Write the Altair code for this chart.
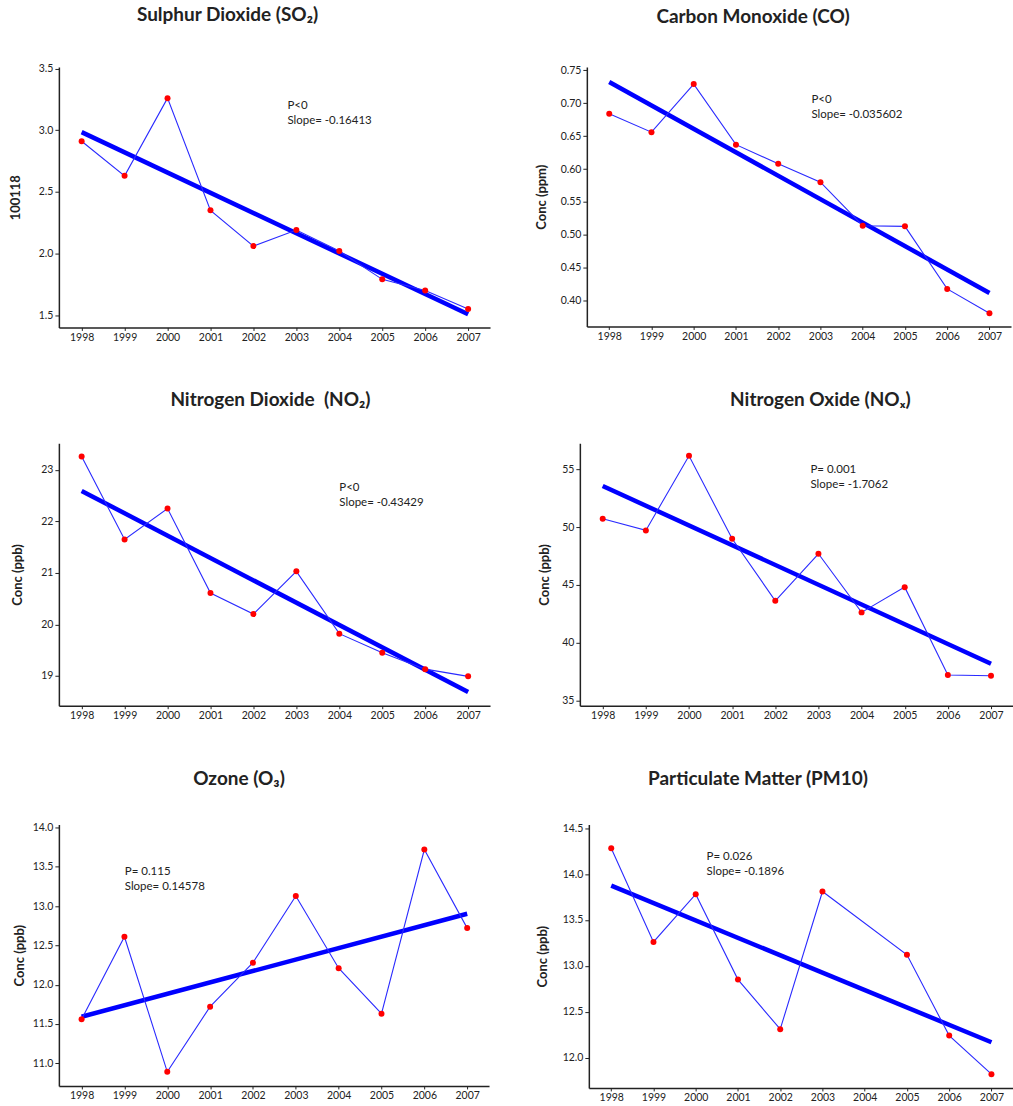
import altair as alt
import pandas as pd

# Annual mean concentrations, 1998-2007
years = [1998, 1999, 2000, 2001, 2002, 2003, 2004, 2005, 2006, 2007]

so2 = [2.91, 2.63, 3.26, 2.35, 2.06, 2.19, 2.02, 1.79, 1.70, 1.55]
co = [0.684, 0.656, 0.729, 0.637, 0.608, 0.580, 0.514, 0.513, 0.418, 0.381]
no2 = [23.26, 21.65, 22.25, 20.61, 20.20, 21.03, 19.82, 19.45, 19.13, 18.99]
nox = [50.71, 49.71, 56.15, 48.99, 43.63, 47.69, 42.63, 44.81, 37.22, 37.16]
o3 = [11.56, 12.61, 10.89, 11.72, 12.28, 13.13, 12.21, 11.63, 13.72, 12.72]
pm10 = [14.28, 13.26, 13.78, 12.85, 12.31, 13.81, None, 13.12, 12.24, 11.82]

series = [so2, co, no2, nox, o3, pm10]

titles = [
    "Sulphur Dioxide (SO₂)",
    "Carbon Monoxide (CO)",
    "Nitrogen Dioxide\u00a0 (NO₂)",
    "Nitrogen Oxide (NOₓ)",
    "Ozone (O₃)",
    "Particulate Matter (PM10)",
]
y_titles = ["100118", "Conc (ppm)", "Conc (ppb)", "Conc (ppb)", "Conc (ppb)", "Conc (ppb)"]
p_labels = ["P<0", "P<0", "P<0", "P= 0.001", "P= 0.115", "P= 0.026"]
slopes = [-0.16413, -0.035602, -0.43429, -1.7062, 0.14578, -0.1896]

y_ticks = [
    [1.5, 2.0, 2.5, 3.0, 3.5],
    [0.40, 0.45, 0.50, 0.55, 0.60, 0.65, 0.70, 0.75],
    [19, 20, 21, 22, 23],
    [35, 40, 45, 50, 55],
    [11.0, 11.5, 12.0, 12.5, 13.0, 13.5, 14.0],
    [12.0, 12.5, 13.0, 13.5, 14.0, 14.5],
]
y_formats = [".1f", ".2f", "d", "d", ".1f", ".1f"]
y_domains = [
    [1.40, 3.513],
    [0.361, 0.755],
    [18.42, 23.52],
    [34.57, 57.24],
    [10.71, 14.04],
    [11.67, 14.54],
]

# panel geometry: width, height, y-axis extent, title padding, title offset, title dx,
# annotation x/y (first line centre) inside the plot area
layout = [
    dict(w=432, h=261, ext=26, tpad=10, toff=39, tdx=-47, ax=229, ay=37),
    dict(w=425, h=260, ext=30, tpad=8, toff=38, tdx=-46, ax=225, ay=31),
    dict(w=432, h=263, ext=24, tpad=10, toff=33, tdx=-4, ax=281, ay=43),
    dict(w=434, h=263, ext=20, tpad=8, toff=33, tdx=24, ax=231, ay=25),
    dict(w=431, h=262, ext=26, tpad=6, toff=34, tdx=-35, ax=66, ay=46),
    dict(w=425, h=264, ext=30, tpad=9, toff=34, tdx=-43, ax=118, ay=31),
]

FONT = "Lato"
INK = "#222222"


def panel(i):
    g = layout[i]
    df = pd.DataFrame({"year": years, "value": series[i]}).dropna()
    xm = df["year"].mean()
    ym = df["value"].mean()
    ends = [years[0], years[-1]]
    trend = pd.DataFrame(
        {"year": ends, "value": [ym + slopes[i] * (e - xm) for e in ends]}
    )

    x = alt.X(
        "year:Q",
        scale=alt.Scale(domain=[1997.47, 2007.51], nice=False, zero=False),
        axis=alt.Axis(values=years, format="d", title=None, tickSize=3,
                      labelPadding=2, labelFlush=False),
    )
    y = alt.Y(
        "value:Q",
        scale=alt.Scale(domain=y_domains[i], nice=False, zero=False),
        axis=alt.Axis(values=y_ticks[i], format=y_formats[i], title=y_titles[i],
                      minExtent=g["ext"], maxExtent=g["ext"], titlePadding=g["tpad"],
                      tickSize=4, labelPadding=2),
    )

    fit = alt.Chart(trend).mark_line(color="#0000ff", strokeWidth=4.5).encode(x=x, y=y)
    obs = alt.Chart(df).mark_line(color="#2a2aff", strokeWidth=1.1).encode(x=x, y=y)
    pts = alt.Chart(df).mark_point(filled=True, color="#ff0000", size=36, opacity=1).encode(x=x, y=y)
    note = alt.Chart(pd.DataFrame({"k": [0]})).mark_text(
        align="left", baseline="top", font=FONT, fontSize=11.5, color=INK,
        lineHeight=15, text=[p_labels[i], f"Slope= {slopes[i]}"],
    ).encode(x=alt.value(g["ax"]), y=alt.value(g["ay"] - 4))

    return alt.layer(fit, obs, pts, note).properties(
        width=g["w"],
        height=g["h"],
        title=alt.TitleParams(text=titles[i], offset=g["toff"], dx=g["tdx"],
                              fontSize=19, font=FONT, fontWeight="bold",
                              color=INK, anchor="middle"),
    )


row1 = alt.hconcat(panel(0), panel(1), spacing=46)
row2 = alt.hconcat(panel(2), panel(3), spacing=49)
row3 = alt.hconcat(panel(4), panel(5), spacing=48)

chart = (
    alt.vconcat(row1, row2, row3, spacing=48)
    .properties(padding={"left": 10, "top": 4, "right": 0, "bottom": 0}, background="white")
    .configure_view(strokeOpacity=0)
    .configure_axis(
        grid=False,
        domainColor=INK,
        domainWidth=1.5,
        tickColor=INK,
        labelFont=FONT,
        labelFontSize=10.5,
        labelColor=INK,
        titleFont=FONT,
        titleFontSize=13,
        titleFontWeight="bold",
        titleColor=INK,
    )
)

chart.save("out.html", embed_options={"renderer": "svg", "actions": False})
